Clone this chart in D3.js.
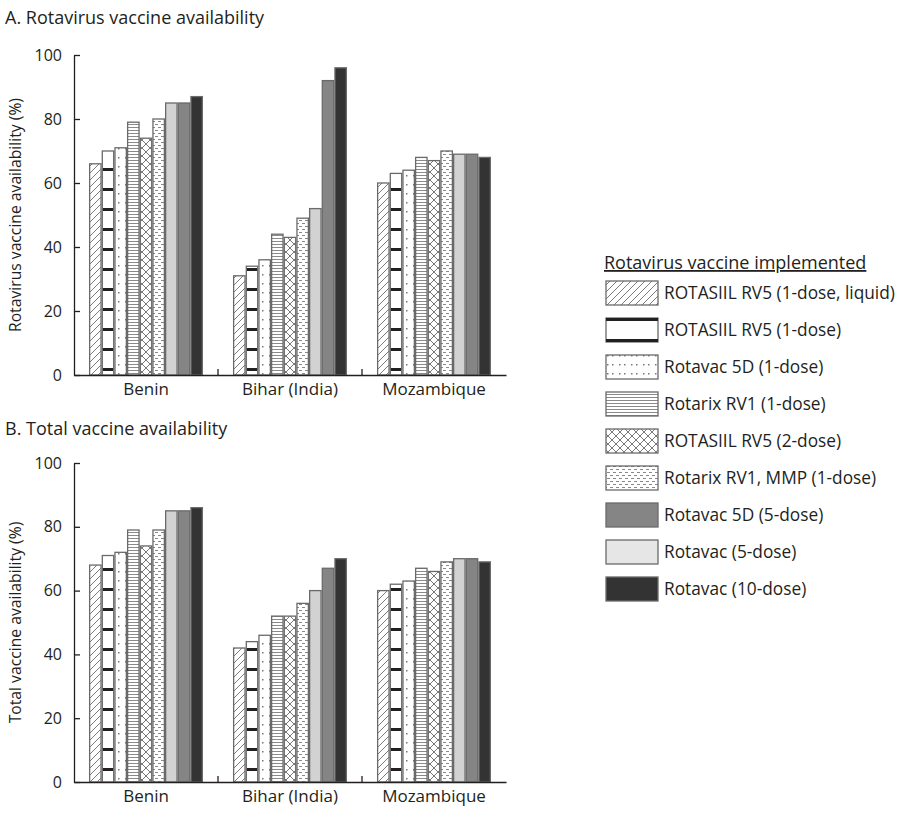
<!DOCTYPE html>
<html><head><meta charset="utf-8">
<script src="https://cdn.jsdelivr.net/npm/d3@7"></script>
<style>
body{margin:0;background:#fff;}
text{font-family:"Open Sans","Noto Sans",sans-serif;fill:#231f20;}
</style></head>
<body>
<svg id="chart" width="900" height="814"></svg>
<script>
const categories = ["Benin", "Bihar (India)", "Mozambique"];
// series in the order the bars are drawn within each group
const seriesNames = [
  "ROTASIIL RV5 (1-dose, liquid)",
  "ROTASIIL RV5 (1-dose)",
  "Rotavac 5D (1-dose)",
  "Rotarix RV1 (1-dose)",
  "ROTASIIL RV5 (2-dose)",
  "Rotarix RV1, MMP (1-dose)",
  "Rotavac (5-dose)",
  "Rotavac 5D (5-dose)",
  "Rotavac (10-dose)"
];
// order of series in the legend (indices into seriesNames)
const legendOrder = [0, 1, 2, 3, 4, 5, 7, 6, 8];
// rows: categories, columns: series (bar order)
const rotavirusAvail = [
  [66, 70, 71, 79, 74, 80, 85, 85, 87],
  [31, 34, 36, 44, 43, 49, 52, 92, 96],
  [60, 63, 64, 68, 67, 70, 69, 69, 68]
];
const totalAvail = [
  [68, 71, 72, 79, 74, 79, 85, 85, 86],
  [42, 44, 46, 52, 52, 56, 60, 67, 70],
  [60, 62, 63, 67, 66, 69, 70, 70, 69]
];
const yTicks = [0, 20, 40, 60, 80, 100];
const panelTitles = ["A. Rotavirus vaccine availability", "B. Total vaccine availability"];
const yTitles = ["Rotavirus vaccine availability (%)", "Total vaccine availability (%)"];
const legendTitle = "Rotavirus vaccine implemented";

const svg = d3.select("#chart");
const defs = svg.append("defs");

function pat(id, w, h) {
  const p = defs.append("pattern").attr("id", id).attr("patternUnits", "userSpaceOnUse")
    .attr("width", w).attr("height", h);
  p.append("rect").attr("width", w).attr("height", h).attr("fill", "#fff");
  return p;
}
let p;
p = pat("p0", 7, 7);
p.append("path").attr("d", "M0,7 L7,0 M-1,1 L1,-1 M6,8 L8,6").attr("stroke", "#6d6d6d").attr("stroke-width", 0.9);
p = pat("p1", 12, 20);
p.append("rect").attr("x", 0).attr("y", 8).attr("width", 12).attr("height", 3).attr("fill", "#231f20");
p = pat("p2", 12, 9);
p.append("rect").attr("x", 3).attr("y", 4).attr("width", 1.5).attr("height", 1.5).attr("fill", "#777");
p.append("rect").attr("x", 8).attr("y", 4).attr("width", 1.5).attr("height", 1.5).attr("fill", "#777");
p = pat("p3", 12, 3);
p.append("rect").attr("x", 0).attr("y", 1).attr("width", 12).attr("height", 1).attr("fill", "#8a8a8a");
p = pat("p4", 8, 8);
p.append("path").attr("d", "M0,0 L8,8 M8,0 L0,8").attr("stroke", "#555").attr("stroke-width", 0.8);
p = pat("p5", 6, 6);
p.append("rect").attr("x", 0).attr("y", 1).attr("width", 3).attr("height", 1).attr("fill", "#888");
p.append("rect").attr("x", 3).attr("y", 4).attr("width", 3).attr("height", 1).attr("fill", "#888");

// fills by series (bar order)
const fills = ["url(#p0)", "url(#p1)", "url(#p2)", "url(#p3)", "url(#p4)", "url(#p5)", "#d2d2d2", "#858585", "#333333"];
const legendFills = ["url(#p0)", "#fff", "url(#p2)", "url(#p3)", "url(#p4)", "url(#p5)", "#e6e6e6", "#858585", "#333333"];

const x0 = d3.scaleBand().domain(categories).range([74, 506]).paddingInner(0).paddingOuter(0);
const x1 = d3.scaleBand().domain(seriesNames).range([15, 129]).paddingInner(0.1).paddingOuter(0.05);

const panels = [
  {data: rotavirusAvail, y0: 375, y1: 55, titleY: 24},
  {data: totalAvail, y0: 782, y1: 463, titleY: 435}
];

panels.forEach((pn, i) => {
  const y = d3.scaleLinear().domain([0, 100]).range([pn.y0, pn.y1]);
  const g = svg.append("g");
  svg.append("text").attr("x", 5).attr("y", pn.titleY).attr("font-size", 18).text(panelTitles[i]);
  svg.append("text").attr("transform", `translate(21,${(pn.y0 + pn.y1) / 2}) rotate(-90)`)
    .attr("text-anchor", "middle").attr("font-size", 15.7).text(yTitles[i]);

  categories.forEach((c, ci) => {
    const gg = g.append("g").attr("transform", `translate(${x0(c)},0)`);
    gg.selectAll("rect").data(pn.data[ci]).join("rect")
      .attr("x", (d, si) => x1(seriesNames[si]))
      .attr("width", x1.bandwidth())
      .attr("y", d => y(d))
      .attr("height", d => y(0) - y(d))
      .attr("fill", (d, si) => fills[si])
      .attr("stroke", "#6a6a6a").attr("stroke-width", 1.3);
  });

  const ya = svg.append("g").attr("transform", "translate(74,0)")
    .call(d3.axisLeft(y).tickValues(yTicks).tickSize(-6).tickSizeOuter(0).tickPadding(12));
  ya.selectAll("text").attr("font-size", 16).attr("fill", "#231f20");
  ya.selectAll("line,path").attr("stroke", "#231f20").attr("stroke-width", 1.3);

  const xa = svg.append("g").attr("transform", `translate(0,${pn.y0})`)
    .call(d3.axisBottom(x0).tickSize(0).tickSizeOuter(0).tickPadding(8));
  xa.selectAll("text").attr("font-size", 17).attr("fill", "#231f20");
  xa.select("path").attr("stroke", "#231f20").attr("stroke-width", 1.3);
  xa.selectAll(".sep").data(categories.slice(0, -1)).join("line").attr("class", "sep")
    .attr("x1", d => x0(d) + x0.bandwidth()).attr("x2", d => x0(d) + x0.bandwidth())
    .attr("y1", 0).attr("y2", -6).attr("stroke", "#231f20").attr("stroke-width", 1.3);
});

const lg = svg.append("g").attr("transform", "translate(604,0)");
lg.append("text").attr("x", 0).attr("y", 269).attr("font-size", 18).attr("text-decoration", "underline").text(legendTitle);
const rowY = d3.scaleLinear().domain([0, 8]).range([293, 589]);
legendOrder.forEach((si, i) => {
  const cy = rowY(i);
  lg.append("rect").attr("x", 2).attr("y", cy - 12).attr("width", 52).attr("height", 24)
    .attr("fill", legendFills[si]).attr("stroke", "#6a6a6a").attr("stroke-width", 1.3);
  if (si === 1) {
    lg.append("rect").attr("x", 2).attr("y", cy - 12).attr("width", 52).attr("height", 3).attr("fill", "#231f20");
    lg.append("rect").attr("x", 2).attr("y", cy + 9).attr("width", 52).attr("height", 3).attr("fill", "#231f20");
  }
  lg.append("text").attr("x", 60).attr("y", cy + 6).attr("font-size", 17.3).text(seriesNames[si]);
});
</script>
</body></html>
